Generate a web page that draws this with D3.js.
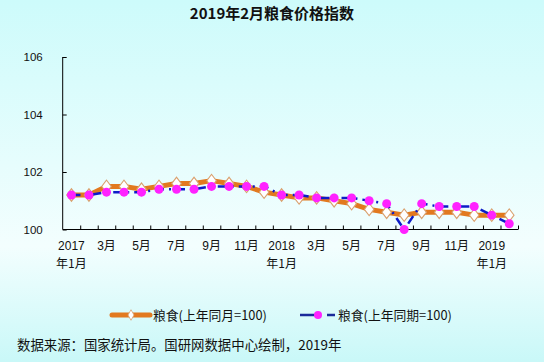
<!DOCTYPE html>
<html><head><meta charset="utf-8">
<script src="https://cdn.jsdelivr.net/npm/d3@7"></script>
<style>html,body{margin:0;padding:0;}svg{display:block;}</style>
</head><body>
<script>
const months = ["2017-01","2017-02","2017-03","2017-04","2017-05","2017-06","2017-07","2017-08","2017-09","2017-10","2017-11","2017-12",
"2018-01","2018-02","2018-03","2018-04","2018-05","2018-06","2018-07","2018-08","2018-09","2018-10","2018-11","2018-12","2019-01","2019-02"];
const labelsLine1 = ["2017","","3月","","5月","","7月","","9月","","11月","","2018","","3月","","5月","","7月","","9月","","11月","","2019",""];
const labelsLine2 = ["年1月","","","","","","","","","","","","年1月","","","","","","","","","","","","年1月",""];
const yoyMonth = [101.2,101.2,101.5,101.5,101.4,101.5,101.6,101.6,101.7,101.6,101.5,101.3,101.2,101.1,101.1,101.0,100.9,100.7,100.6,100.5,100.6,100.6,100.6,100.5,100.5,100.5];
const yoyPeriod = [101.2,101.2,101.3,101.3,101.3,101.4,101.4,101.4,101.5,101.5,101.5,101.5,101.2,101.2,101.1,101.1,101.1,101.0,100.9,100.0,100.9,100.8,100.8,100.8,100.5,100.2];
const yTicks = [100,102,104,106];
const title = "2019年2月粮食价格指数";
const seriesNames = ["粮食(上年同月=100)","粮食(上年同期=100)"];
const source = "数据来源：国家统计局。国研网数据中心绘制，2019年";

const W=544,H=362;
const mLeft=62.7,mRight=518,mTop=57,mBottom=229.5;
const svg=d3.select("body").append("svg").attr("width",W).attr("height",H);
const defs=svg.append("defs");
const grad=defs.append("linearGradient").attr("id","bg").attr("x1",0).attr("y1",0).attr("x2",0).attr("y2",1);
grad.append("stop").attr("offset","0%").attr("stop-color","#cdfbfb");
grad.append("stop").attr("offset","68%").attr("stop-color","#f3fefe");
grad.append("stop").attr("offset","100%").attr("stop-color","#c9f8f8");
svg.append("rect").attr("width",W).attr("height",H).attr("fill","url(#bg)");

svg.append("text").attr("x",272).attr("y",19).attr("text-anchor","middle")
 .attr("font-family","'Noto Sans CJK SC'").attr("font-weight","bold").attr("font-size",15).attr("fill","#111").text(title);

const x=d3.scaleBand().domain(months).range([mLeft,mRight]).padding(0);
const xi=d3.scaleLinear().domain([0,months.length]).range([mLeft,mRight]);
const y=d3.scaleLinear().domain([100,106]).range([mBottom,mTop]);
const cx=d=>x(d)+x.bandwidth()/2;

const yAxis=svg.append("g").attr("transform",`translate(${mLeft},0)`)
 .call(d3.axisLeft(y).tickValues(yTicks).tickSize(-4).tickPadding(20).tickFormat(d3.format("d")));
yAxis.selectAll("text").attr("font-family","'Liberation Sans'").attr("font-size",11.5).attr("fill","#111");
yAxis.selectAll("line,path").attr("stroke","#000");
yAxis.select(".domain").attr("d",`M-0,${mTop}V${mBottom}`);

const xAxis=svg.append("g").attr("transform",`translate(0,${mBottom})`)
 .call(d3.axisBottom(xi).tickValues(d3.range(1,months.length+1)).tickSize(-4).tickFormat(""));
xAxis.selectAll("line,path").attr("stroke","#000");
xAxis.select(".domain").attr("d",`M${mLeft},0H${mRight}`);

const lab=svg.append("g").attr("font-family","'Liberation Sans','Noto Sans CJK SC'").attr("font-size",12).attr("fill","#111").attr("text-anchor","middle");
months.forEach((m,i)=>{
  if(labelsLine1[i]) lab.append("text").attr("x",cx(m)).attr("y",250).text(labelsLine1[i]);
  if(labelsLine2[i]) lab.append("text").attr("x",cx(m)).attr("y",268).attr("font-family","'Noto Sans CJK SC'").text(labelsLine2[i]);
});

const orange="#e2791f", blue="#0c1cc8", magenta="#ff22ff";
const line=d3.line().x((d,i)=>cx(months[i])).y(d=>y(d));
svg.append("path").datum(yoyMonth).attr("d",line).attr("fill","none").attr("stroke",orange).attr("stroke-width",5).attr("stroke-linejoin","round");
const diamond=d3.symbol().type(d3.symbolDiamond).size(50);
svg.append("g").selectAll("path").data(yoyMonth).join("path")
 .attr("d",diamond).attr("transform",(d,i)=>`translate(${cx(months[i])},${y(d)}) scale(1.25,0.95)`)
 .attr("fill","#fff").attr("stroke","#d9a06e").attr("stroke-width",1);
svg.append("path").datum(yoyPeriod).attr("d",line).attr("fill","none").attr("stroke",blue).attr("stroke-width",2.5).attr("stroke-dasharray","9,5,2,5");
svg.append("g").selectAll("circle").data(yoyPeriod).join("circle")
 .attr("cx",(d,i)=>cx(months[i])).attr("cy",d=>y(d)).attr("r",4.5).attr("fill",magenta);

// legend
const lg=svg.append("g");
const ly=315;
lg.append("line").attr("x1",112).attr("x2",150).attr("y1",ly).attr("y2",ly).attr("stroke",orange).attr("stroke-width",5).attr("stroke-linecap","round");
lg.append("path").attr("d",diamond).attr("transform",`translate(131,${ly}) scale(0.8,0.8)`).attr("fill","#fff").attr("stroke","#d9a06e");
lg.append("text").attr("x",153).attr("y",ly+4.5).attr("font-family","'Noto Sans CJK SC'").attr("font-size",12.8).attr("fill","#111").text(seriesNames[0]);
lg.append("line").attr("x1",300).attr("x2",336).attr("y1",ly).attr("y2",ly).attr("stroke","#1a2a9a").attr("stroke-width",2.5).attr("stroke-dasharray","17,10,8,4");
lg.append("circle").attr("cx",318).attr("cy",ly).attr("r",4).attr("fill",magenta);
lg.append("text").attr("x",338).attr("y",ly+4.5).attr("font-family","'Noto Sans CJK SC'").attr("font-size",12.8).attr("fill","#111").text(seriesNames[1]);

svg.append("text").attr("x",17).attr("y",350).attr("font-family","'Noto Sans CJK SC'").attr("font-size",13.4).attr("fill","#111").text(source);
</script>
</body></html>
